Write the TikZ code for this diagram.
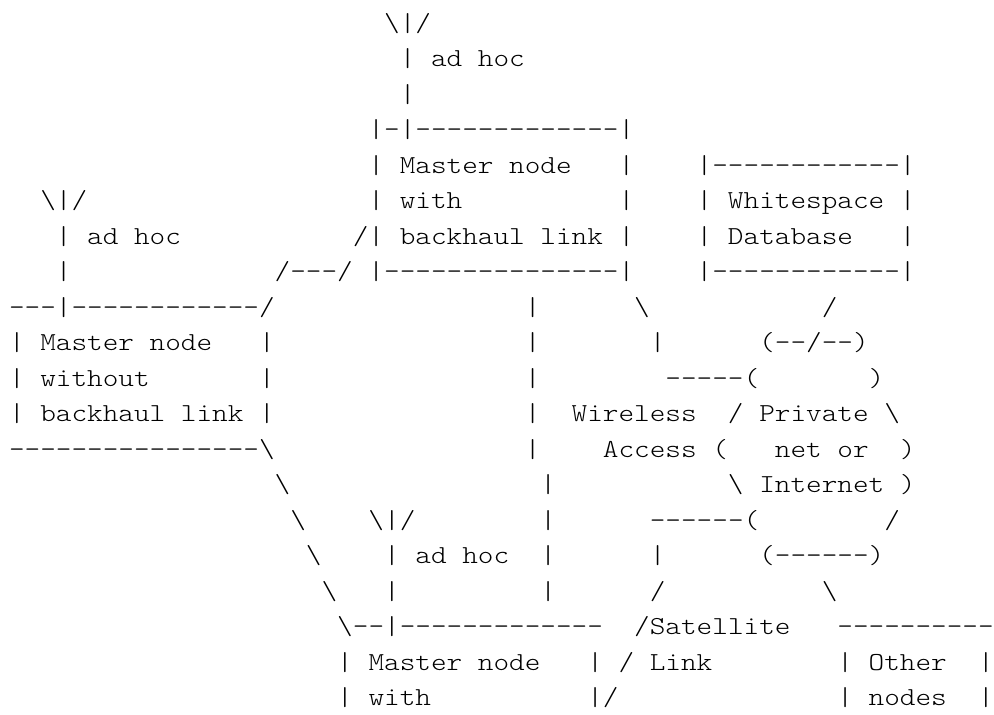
\documentclass[tikz,border=0pt]{standalone}
\usepackage{fontspec}
\setmonofont{lmmonolt10-regular.otf}[FakeStretch=1.15]
\usepackage{tikz}

\begin{document}
\begin{tikzpicture}[x=11.7225pt, y=26.625pt,
    ascii/.style={anchor=base west, inner sep=0pt, outer sep=0pt, text=black,
                  font=\ttfamily\fontsize{19.42pt}{26.6pt}\selectfont}
]
\useasboundingbox (-0.576,0.887) rectangle (63.02,-19.254);

% Top master node (with backhaul link)
\node[ascii] (r1a) at (24,0) {\textbackslash|/};
\node[ascii] (r2a) at (25,-1) {| ad hoc};
\node[ascii] (r3a) at (25,-2) {|};
\node[ascii] (r4a) at (23,-3) {|-|-------------|};
\node[ascii] (r5a) at (23,-4) {| Master node};
\node[ascii] (r5b) at (39,-4) {|};
\node[ascii] (r5c) at (44,-4) {|------------|};
\node[ascii] (r6a) at (2,-5) {\textbackslash|/};
\node[ascii] (r6b) at (23,-5) {| with};
\node[ascii] (r6c) at (39,-5) {|};
\node[ascii] (r6d) at (44,-5) {| Whitespace |};
\node[ascii] (r7a) at (3,-6) {| ad hoc};
\node[ascii] (r7b) at (22,-6) {/| backhaul link |};
\node[ascii] (r7c) at (44,-6) {| Database};
\node[ascii] (r7d) at (57,-6) {|};
\node[ascii] (r8a) at (3,-7) {|};
\node[ascii] (r8b) at (17,-7) {/---/};
\node[ascii] (r8c) at (23,-7) {|---------------|};
\node[ascii] (r8d) at (44,-7) {|------------|};

% Left master node (without backhaul link) and the cloud
\node[ascii] (r9a) at (0,-8) {---|------------/};
\node[ascii] (r9b) at (33,-8) {|};
\node[ascii] (r9c) at (40,-8) {\textbackslash};
\node[ascii] (r9d) at (52,-8) {/};
\node[ascii] (r10a) at (0,-9) {| Master node};
\node[ascii] (r10b) at (16,-9) {|};
\node[ascii] (r10c) at (33,-9) {|};
\node[ascii] (r10d) at (41,-9) {|};
\node[ascii] (r10e) at (48,-9) {(--/--)};
\node[ascii] (r11a) at (0,-10) {| without};
\node[ascii] (r11b) at (16,-10) {|};
\node[ascii] (r11c) at (33,-10) {|};
\node[ascii] (r11d) at (42,-10) {-----(};
\node[ascii] (r11e) at (55,-10) {)};
\node[ascii] (r12a) at (0,-11) {| backhaul link |};
\node[ascii] (r12b) at (33,-11) {|};
\node[ascii] (r12c) at (36,-11) {Wireless};
\node[ascii] (r12d) at (46,-11) {/ Private \textbackslash};
\node[ascii] (r13a) at (0,-12) {----------------\textbackslash};
\node[ascii] (r13b) at (33,-12) {|};
\node[ascii] (r13c) at (38,-12) {Access (};
\node[ascii] (r13d) at (49,-12) {net or};
\node[ascii] (r13e) at (57,-12) {)};
\node[ascii] (r14a) at (17,-13) {\textbackslash};
\node[ascii] (r14b) at (34,-13) {|};
\node[ascii] (r14c) at (46,-13) {\textbackslash{} Internet )};

% Bottom master node, satellite link and other nodes
\node[ascii] (r15a) at (18,-14) {\textbackslash};
\node[ascii] (r15b) at (23,-14) {\textbackslash|/};
\node[ascii] (r15c) at (34,-14) {|};
\node[ascii] (r15d) at (41,-14) {------(};
\node[ascii] (r15e) at (56,-14) {/};
\node[ascii] (r16a) at (19,-15) {\textbackslash};
\node[ascii] (r16b) at (24,-15) {| ad hoc};
\node[ascii] (r16c) at (34,-15) {|};
\node[ascii] (r16d) at (41,-15) {|};
\node[ascii] (r16e) at (48,-15) {(------)};
\node[ascii] (r17a) at (20,-16) {\textbackslash};
\node[ascii] (r17b) at (24,-16) {|};
\node[ascii] (r17c) at (34,-16) {|};
\node[ascii] (r17d) at (41,-16) {/};
\node[ascii] (r17e) at (52,-16) {\textbackslash};
\node[ascii] (r18a) at (21,-17) {\textbackslash--|-------------};
\node[ascii] (r18b) at (40,-17) {/Satellite};
\node[ascii] (r18c) at (53,-17) {----------};
\node[ascii] (r19a) at (21,-18) {| Master node};
\node[ascii] (r19b) at (37,-18) {| / Link};
\node[ascii] (r19c) at (53,-18) {| Other};
\node[ascii] (r19d) at (62,-18) {|};
\node[ascii] (r20a) at (21,-19) {| with};
\node[ascii] (r20b) at (37,-19) {|/};
\node[ascii] (r20c) at (53,-19) {| nodes};
\node[ascii] (r20d) at (62,-19) {|};

\end{tikzpicture}
\end{document}
